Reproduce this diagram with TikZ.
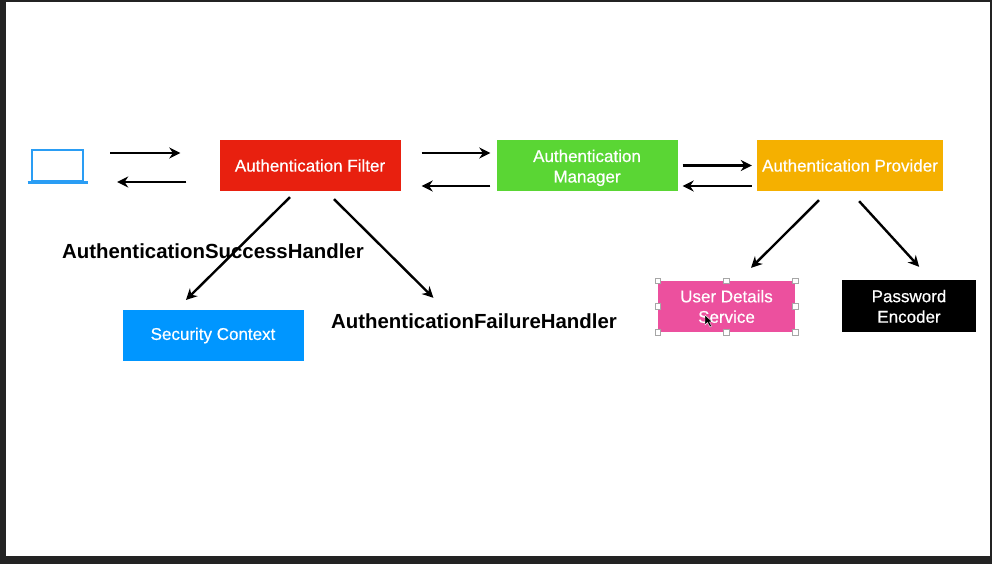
\documentclass[tikz,border=0pt]{standalone}
\usepackage{fontspec}
\setmainfont{Liberation Sans}
\newfontfamily\boxfont[FakeBold=0.5]{Liberation Sans}
\definecolor{framedark}{HTML}{232323}
\definecolor{filterred}{HTML}{E8200F}
\definecolor{managergreen}{HTML}{5AD634}
\definecolor{provideramber}{HTML}{F5B000}
\definecolor{contextblue}{HTML}{0096FF}
\definecolor{detailspink}{HTML}{EC509E}
\definecolor{laptopblue}{HTML}{2A9DF4}
\usetikzlibrary{arrows.meta}
\tikzset{
  box/.style={draw=none,inner sep=0pt,align=center,text=white,font=\boxfont\fontsize{17}{20.5}\selectfont},
  handlerlabel/.style={inner sep=0pt,text=black,font=\fontsize{20.4}{24}\selectfont\bfseries},
  arr/.style={draw=black,line width=2.4pt,-{Stealth[length=11pt,width=11pt]}},
  handle/.style={draw=gray!70,fill=white,line width=0.8pt,minimum size=5.5pt,inner sep=0pt,rectangle},
}
\begin{document}
\begin{tikzpicture}[x=1pt,y=-1pt]
\useasboundingbox (0,0) rectangle (992,564);
\fill[framedark] (0,0) rectangle (992,564);
\fill[white] (6,2) rectangle (990,556);
% laptop
\node[draw=laptopblue,line width=2.4pt,minimum width=51pt,minimum height=31pt,inner sep=0pt] (laptop) at (57.5,165.5) {};
\draw[laptopblue,line width=3pt] ([xshift=-30pt]laptop.south) -- ([xshift=30pt]laptop.south);
% boxes
\node[box,fill=filterred,minimum width=181pt,minimum height=51pt] (filter) at (310,165.5) {Authentication Filter};
\node[box,fill=managergreen,minimum width=181pt,minimum height=51pt] (manager) at (587,165.5) {\rule{0pt}{17pt}Authentication\\Manager};
\node[box,fill=provideramber,minimum width=186pt,minimum height=51pt] (provider) at (850,165.5) {Authentication Provider};
\node[box,fill=contextblue,minimum width=181pt,minimum height=51pt] (context) at (213,335.5) {Security Context};
\node[box,fill=detailspink,minimum width=137pt,minimum height=51pt] (details) at (726.5,306.5) {\rule{0pt}{11pt}User Details\\Service};
\node[box,fill=black,minimum width=134pt,minimum height=52pt] (encoder) at (909,306) {\rule{0pt}{13pt}Password\\Encoder};
% labels
\node[handlerlabel,anchor=west] (success) at (62,251) {AuthenticationSuccessHandler};
\node[handlerlabel,anchor=west] (failure) at (331,321) {AuthenticationFailureHandler};
% horizontal connectors
\draw[arr,shorten <=26pt,shorten >=39pt] ([yshift=12.5pt]laptop.east) -- ([yshift=12.5pt]filter.west);
\draw[arr,shorten <=33pt,shorten >=33pt] ([yshift=-16.5pt]filter.west) -- ([yshift=-16.5pt]laptop.east);
\draw[arr,shorten <=21pt,shorten >=6pt] ([yshift=12.5pt]filter.east) -- ([yshift=12.5pt]manager.west);
\draw[arr,shorten <=6pt,shorten >=21pt] ([yshift=-20.5pt]manager.west) -- ([yshift=-20.5pt]filter.east);
\draw[arr,shorten <=5pt,shorten >=5pt] (manager.east) -- (provider.west);
\draw[arr,shorten <=5pt,shorten >=5pt] ([yshift=-20.5pt]provider.west) -- ([yshift=-20.5pt]manager.east);
% diagonal connectors
\draw[arr,shorten <=8.5pt,shorten >=14pt] ([xshift=-14pt]filter.south) -- ([xshift=-37pt]context.north);
\draw[arr,shorten <=11.3pt,shorten >=22pt] ([xshift=16pt]filter.south) -- ([xshift=-25pt]failure.north);
\draw[arr,shorten <=12.7pt,shorten >=18.4pt] ([xshift=-22pt]provider.south) -- ([xshift=11.5pt]details.north);
\draw[arr,shorten <=13.5pt,shorten >=17.6pt] (provider.south) -- ([xshift=22pt]encoder.north);
% selection handles
\foreach \p in {north west,north,north east,west,east,south west,south,south east}
  \node[handle] at (details.\p) {};
% mouse cursor
\fill[black,draw=white,line width=0.4pt] (705,315) -- (705,325) -- (707.5,322.5) -- (710,327) -- (711.5,326) -- (709.5,322) -- (712,321.5) -- cycle;
\end{tikzpicture}
\end{document}
